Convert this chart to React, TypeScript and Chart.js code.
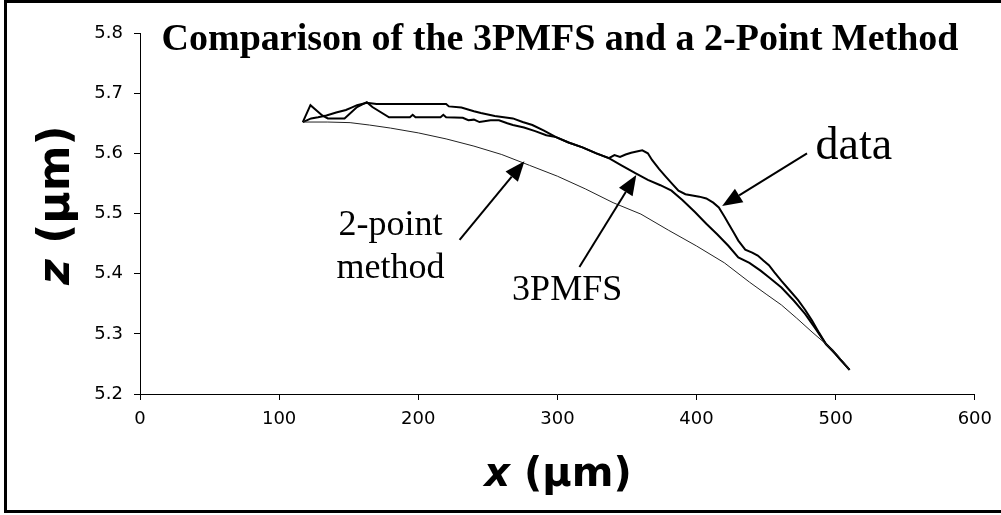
import { useEffect, useRef } from "react";
import { Chart, registerables } from "chart.js";

Chart.register(...registerables);

// ---- Data (x in µm, z in µm) ----
const dataX = [117, 122.5, 131, 135, 147, 156, 163, 167, 179, 194, 196, 198, 216, 218, 220, 232, 236, 240, 244, 252, 258, 264, 268, 276, 284, 292, 299, 308, 318, 328, 337, 341, 345, 349, 353, 357, 361, 365, 368, 373, 378, 383, 387, 392, 397, 402, 407, 412, 416, 420, 423, 427, 430, 435, 440, 444, 448, 452, 456, 461, 467, 473, 478, 483, 488, 493, 498, 503, 507, 510];
const dataZ = [5.652, 5.68, 5.663, 5.658, 5.658, 5.677, 5.685, 5.677, 5.66, 5.66, 5.664, 5.66, 5.66, 5.664, 5.66, 5.659, 5.655, 5.656, 5.652, 5.655, 5.655, 5.65, 5.647, 5.643, 5.637, 5.63, 5.627, 5.618, 5.61, 5.6, 5.592, 5.597, 5.594, 5.598, 5.601, 5.603, 5.605, 5.6, 5.589, 5.574, 5.561, 5.548, 5.538, 5.532, 5.53, 5.528, 5.525, 5.518, 5.51, 5.495, 5.483, 5.467, 5.455, 5.44, 5.435, 5.43, 5.422, 5.414, 5.402, 5.388, 5.372, 5.356, 5.34, 5.322, 5.302, 5.283, 5.272, 5.258, 5.248, 5.24];

const pmfsX = [117, 123, 128, 134, 141, 148, 152, 156, 163, 170, 195, 220, 222, 231, 240, 245, 255, 268, 275, 282, 290, 299, 308, 318, 328, 337, 346, 356, 365, 374, 382, 390, 399, 407, 415, 423, 430, 438, 446, 452, 461, 470, 478, 486, 493, 500, 505, 510];
const pmfsZ = [5.652, 5.658, 5.66, 5.663, 5.668, 5.672, 5.676, 5.68, 5.684, 5.682, 5.682, 5.682, 5.678, 5.676, 5.67, 5.667, 5.662, 5.658, 5.652, 5.647, 5.638, 5.627, 5.618, 5.61, 5.6, 5.592, 5.58, 5.567, 5.556, 5.547, 5.538, 5.522, 5.502, 5.483, 5.465, 5.446, 5.427, 5.418, 5.405, 5.394, 5.377, 5.355, 5.333, 5.307, 5.283, 5.266, 5.253, 5.24];

const twoPtX = [117, 135, 151, 165, 180, 200, 220, 240, 260, 280, 300, 320, 340, 360, 380, 400, 420, 438, 450, 461, 472, 483, 493, 500, 505, 510];
const twoPtZ = [5.652, 5.652, 5.651, 5.647, 5.642, 5.634, 5.624, 5.612, 5.598, 5.58, 5.562, 5.541, 5.518, 5.499, 5.472, 5.446, 5.418, 5.386, 5.366, 5.348, 5.326, 5.303, 5.283, 5.268, 5.255, 5.24];

const X_MIN = 0, X_MAX = 600, X_STEP = 100;
const Z_MIN = 5.2, Z_MAX = 5.8, Z_STEP = 0.1;

const TITLE = "Comparison of the 3PMFS and a 2-Point Method";

// annotation labels
const labelTexts = ["data", "3PMFS", "2-point", "method"];
const labelX = [513, 307, 180, 180];
const labelZ = [5.59, 5.356, 5.464, 5.393];
const labelSize = [46, 36, 36, 36];

// arrows: tail (x,z) -> tip (x,z)
const arrowTailX = [479.4, 315.8, 229.7];
const arrowTailZ = [5.6, 5.411, 5.456];
const arrowTipX = [418.4, 356.7, 276.3];
const arrowTipZ = [5.5125, 5.564, 5.587];

const SANS = '"DejaVu Sans"';
const SERIF = '"Liberation Serif"';

const toPts = (xs: number[], zs: number[]) => xs.map((x, i) => ({ x, y: zs[i] }));

export default function App() {
  const ref = useRef<HTMLCanvasElement>(null);

  useEffect(() => {
    const canvas = ref.current!;
    const overlay = {
      id: "overlay",
      afterDraw(chart: any) {
        const ctx = chart.ctx as CanvasRenderingContext2D;
        const sx = chart.scales.x;
        const sy = chart.scales.y;
        ctx.save();
        // outer frame
        ctx.strokeStyle = "#000";
        ctx.lineWidth = 3;
        ctx.strokeRect(5.5, 1.5, 1010, 510);

        ctx.fillStyle = "#000";
        // title
        ctx.font = `bold 38px ${SERIF}`;
        ctx.textAlign = "center";
        ctx.textBaseline = "alphabetic";
        ctx.fillText(TITLE, 560, 50);

        const axisTitle = (letter: string, size: number) => {
          const f1 = `italic bold ${size}px ${SANS}`;
          const f2 = `bold ${size}px ${SANS}`;
          ctx.font = f1;
          const w1 = ctx.measureText(letter).width;
          ctx.font = f2;
          const w2 = ctx.measureText(" (µm)").width;
          const start = -(w1 + w2) / 2;
          ctx.textAlign = "left";
          ctx.font = f1;
          ctx.fillText(letter, start, 0);
          ctx.font = f2;
          ctx.fillText(" (µm)", start + w1, 0);
        };
        ctx.save();
        ctx.translate(558, 486);
        axisTitle("x", 40);
        ctx.restore();

        ctx.save();
        ctx.translate(69, 205);
        ctx.rotate(-Math.PI / 2);
        axisTitle("z", 44);
        ctx.restore();

        // annotation labels
        ctx.textAlign = "center";
        labelTexts.forEach((t, i) => {
          ctx.font = `${labelSize[i]}px ${SERIF}`;
          ctx.fillText(t, sx.getPixelForValue(labelX[i]), sy.getPixelForValue(labelZ[i]));
        });

        // arrows
        arrowTailX.forEach((_, i) => {
          const x1 = sx.getPixelForValue(arrowTailX[i]);
          const y1 = sy.getPixelForValue(arrowTailZ[i]);
          const x2 = sx.getPixelForValue(arrowTipX[i]);
          const y2 = sy.getPixelForValue(arrowTipZ[i]);
          const ang = Math.atan2(y2 - y1, x2 - x1);
          const hl = 20, hw = 8;
          const bx = x2 - hl * Math.cos(ang);
          const by = y2 - hl * Math.sin(ang);
          ctx.strokeStyle = "#000";
          ctx.lineWidth = 2;
          ctx.beginPath();
          ctx.moveTo(x1, y1);
          ctx.lineTo(bx, by);
          ctx.stroke();
          ctx.beginPath();
          ctx.moveTo(x2, y2);
          ctx.lineTo(bx + hw * Math.sin(ang), by - hw * Math.cos(ang));
          ctx.lineTo(bx - hw * Math.sin(ang), by + hw * Math.cos(ang));
          ctx.closePath();
          ctx.fill();
        });
        ctx.restore();
      },
    };

    const tickFont = { family: SANS, size: 18 };
    const chart = new Chart(canvas, {
      type: "line",
      data: {
        datasets: [
          { label: "2-point method", data: toPts(twoPtX, twoPtZ), borderColor: "#222", borderWidth: 1, pointRadius: 0, tension: 0 },
          { label: "3PMFS", data: toPts(pmfsX, pmfsZ), borderColor: "#000", borderWidth: 2, pointRadius: 0, tension: 0 },
          { label: "data", data: toPts(dataX, dataZ), borderColor: "#000", borderWidth: 2, pointRadius: 0, tension: 0 },
        ],
      },
      options: {
        responsive: false,
        animation: false,
        layout: { padding: { top: 33, right: 25, left: 0, bottom: 0 } },
        plugins: { legend: { display: false }, tooltip: { enabled: false }, title: { display: false } },
        scales: {
          x: {
            type: "linear",
            min: X_MIN,
            max: X_MAX,
            ticks: { stepSize: X_STEP, font: tickFont, color: "#000", padding: 9 },
            grid: { drawOnChartArea: false, color: "#000", tickLength: 6 },
            border: { color: "#000", width: 1 },
            afterFit: (s: any) => { s.height = 121; },
          },
          y: {
            type: "linear",
            min: Z_MIN,
            max: Z_MAX,
            ticks: { stepSize: Z_STEP, font: tickFont, color: "#000", padding: 11, callback: (v: any) => Number(v).toFixed(1) },
            grid: { drawOnChartArea: false, color: "#000", tickLength: 6 },
            border: { color: "#000", width: 1 },
            afterFit: (s: any) => { s.width = 140; },
          },
        },
      } as any,
      plugins: [overlay],
    });
    return () => chart.destroy();
  }, []);

  return (
    <canvas
      ref={ref}
      width={1001}
      height={515}
      style={{ position: "fixed", left: 0, top: 0, background: "#fff" }}
    />
  );
}
